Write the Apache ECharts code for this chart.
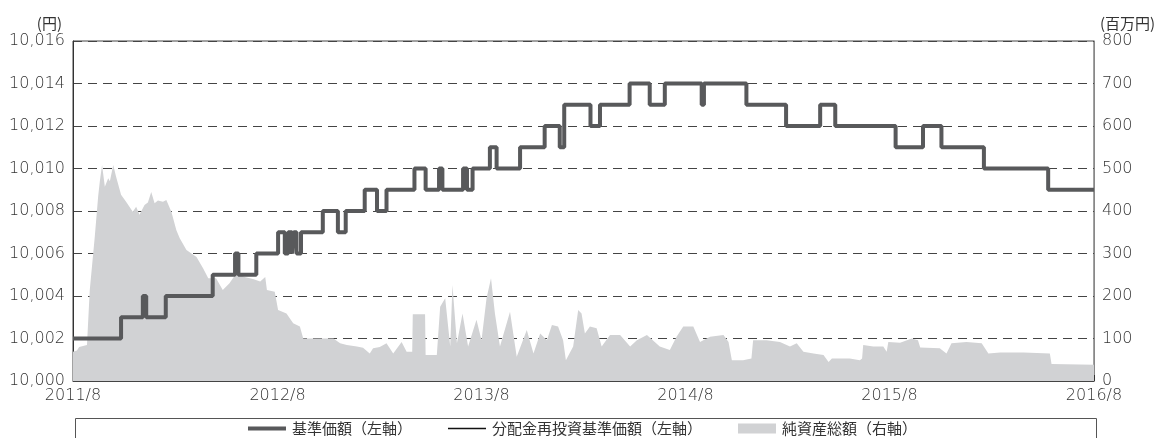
<!DOCTYPE html>
<html>
<head>
<meta charset="utf-8">
<script src="https://cdn.jsdelivr.net/npm/echarts@6/dist/echarts.min.js"></script>
<style>
  html, body { margin: 0; padding: 0; background: #fff; }
  #chart { width: 1165px; height: 438px; }
</style>
</head>
<body>
<div id="chart"></div>
<script>
// 軸の目盛り
var yearTicks = ['2011-08-01', '2012-08-01', '2013-08-01', '2014-08-01', '2015-08-01', '2016-08-01'];

// 基準価額（円）: 変化した日とその日からの値
var navDates = [
    '2011-08-01', '2011-10-26', '2011-12-04', '2011-12-10', '2012-01-14', '2012-04-07',
    '2012-05-17', '2012-05-23', '2012-06-24', '2012-08-02', '2012-08-14', '2012-08-20',
    '2012-08-27', '2012-08-30', '2012-09-04', '2012-09-12', '2012-10-21', '2012-11-17',
    '2012-12-01', '2013-01-04', '2013-01-26', '2013-02-12', '2013-04-03', '2013-04-23',
    '2013-05-17', '2013-05-23', '2013-06-29', '2013-07-06', '2013-07-16', '2013-08-16',
    '2013-08-28', '2013-10-09', '2013-11-22', '2013-12-19', '2013-12-27', '2014-02-12',
    '2014-03-01', '2014-04-23', '2014-05-29', '2014-06-25', '2014-08-30', '2014-09-03',
    '2014-11-18', '2015-01-28', '2015-03-30', '2015-04-26', '2015-08-12', '2015-09-30',
    '2015-11-02', '2016-01-17', '2016-05-11', '2016-08-01'
];
var navValues = [
    10002, 10003, 10004, 10003, 10004, 10005,
    10006, 10005, 10006, 10007, 10006, 10007,
    10006, 10007, 10006, 10007, 10008, 10007,
    10008, 10009, 10008, 10009, 10010, 10009,
    10010, 10009, 10010, 10009, 10010, 10011,
    10010, 10011, 10012, 10011, 10013, 10012,
    10013, 10014, 10013, 10014, 10013, 10014,
    10013, 10012, 10013, 10012, 10011, 10012,
    10011, 10010, 10009, 10009
];
// 分配金再投資基準価額（分配なしのため基準価額と同じ）
var reinvValues = navValues.slice();

// 純資産総額（百万円）
var assetDates = [
    '2011-08-01', '2011-08-08', '2011-08-12', '2011-08-26', '2011-08-31', '2011-09-09',
    '2011-09-15', '2011-09-18', '2011-09-22', '2011-09-27', '2011-10-03', '2011-10-06',
    '2011-10-12', '2011-10-17', '2011-10-26', '2011-11-04', '2011-11-16', '2011-11-22',
    '2011-11-28', '2011-12-07', '2011-12-13', '2011-12-19', '2011-12-25', '2011-12-31',
    '2012-01-09', '2012-01-15', '2012-01-24', '2012-02-02', '2012-02-08', '2012-02-20',
    '2012-03-09', '2012-03-21', '2012-03-30', '2012-04-13', '2012-04-25', '2012-05-07',
    '2012-05-19', '2012-06-03', '2012-06-18', '2012-07-01', '2012-07-10', '2012-07-13',
    '2012-07-27', '2012-08-02', '2012-08-17', '2012-08-29', '2012-09-10', '2012-09-16',
    '2012-11-09', '2012-11-21', '2012-12-03', '2012-12-21', '2013-01-01', '2013-01-13',
    '2013-01-19', '2013-01-31', '2013-02-12', '2013-02-24', '2013-03-11', '2013-03-20',
    '2013-03-30', '2013-03-31', '2013-04-22', '2013-04-23', '2013-05-13', '2013-05-19',
    '2013-05-28', '2013-06-06', '2013-06-10', '2013-06-18', '2013-06-28', '2013-07-08',
    '2013-07-23', '2013-08-01', '2013-08-10', '2013-08-18', '2013-08-25', '2013-09-03',
    '2013-09-21', '2013-10-03', '2013-10-21', '2013-11-02', '2013-11-14', '2013-11-26',
    '2013-12-05', '2013-12-16', '2013-12-25', '2013-12-30', '2014-01-12', '2014-01-21',
    '2014-01-27', '2014-02-02', '2014-02-11', '2014-02-23', '2014-03-04', '2014-03-19',
    '2014-04-06', '2014-04-24', '2014-05-06', '2014-05-24', '2014-06-16', '2014-07-04',
    '2014-07-16', '2014-07-28', '2014-08-15', '2014-08-27', '2014-09-14', '2014-10-08',
    '2014-10-17', '2014-10-23', '2014-11-12', '2014-11-27', '2014-11-30', '2014-12-24',
    '2015-01-17', '2015-02-04', '2015-02-16', '2015-02-28', '2015-03-18', '2015-04-05',
    '2015-04-14', '2015-04-20', '2015-05-22', '2015-06-09', '2015-06-13', '2015-06-15',
    '2015-07-03', '2015-07-21', '2015-07-27', '2015-07-30', '2015-08-20', '2015-09-10',
    '2015-09-21', '2015-09-25', '2015-10-30', '2015-11-11', '2015-11-20', '2015-12-17',
    '2016-01-13', '2016-01-25', '2016-02-15', '2016-03-28', '2016-05-14', '2016-05-17',
    '2016-08-01'
];
var assetValues = [
    69, 72, 80, 85, 214, 340,
    434, 470, 508, 457, 477, 470,
    508, 481, 438, 422, 398, 410,
    391, 414, 420, 445, 418, 425,
    422, 426, 398, 355, 336, 308,
    292, 265, 242, 242, 214, 230,
    253, 245, 240, 234, 245, 214,
    210, 167, 159, 136, 128, 100,
    100, 89, 85, 81, 78, 65,
    77, 80, 89, 65, 92, 69,
    69, 157, 157, 61, 61, 175,
    195, 81, 226, 89, 159, 81,
    144, 96, 195, 242, 159, 81,
    163, 57, 120, 65, 112, 96,
    132, 128, 96, 49, 81, 167,
    159, 112, 128, 124, 81, 108,
    108, 81, 96, 108, 81, 73,
    104, 128, 128, 92, 104, 108,
    92, 49, 49, 53, 96, 96,
    92, 81, 89, 69, 65, 61,
    45, 53, 53, 49, 53, 85,
    81, 81, 69, 92, 90, 100,
    96, 79, 77, 65, 89, 92,
    89, 65, 67, 67, 65, 40,
    38
];

function toTime(s) {
    var p = s.split('-');
    return +new Date(+p[0], +p[1] - 1, +p[2]);
}

function pairs(dates, values) {
    return dates.map(function (d, i) { return [toTime(d), values[i]]; });
}

var tickValues = yearTicks.map(toTime);
var FONT = '"Noto Sans CJK JP", "Noto Sans", sans-serif';
var NUM_FONT = '"DejaVu Sans", "Noto Sans CJK JP", sans-serif';

var chart = echarts.init(document.getElementById('chart'));

var option = {
    animation: false,
    grid: {
        left: 73,
        right: 71,
        top: 41,
        bottom: 57,
        show: true,
        borderColor: '#444',
        borderWidth: 1
    },
    legend: {
        top: 416,
        left: 'center',
        itemWidth: 38,
        itemHeight: 10,
        itemGap: 36,
        symbolKeepAspect: true,
        textStyle: { color: '#333', fontSize: 15, fontFamily: FONT, padding: [0, 0, 0, 1] },
        data: [
            { name: '基準価額（左軸）', icon: 'path://M0,0h38v4h-38z' },
            { name: '分配金再投資基準価額（左軸）', icon: 'path://M0,0h38v1.6h-38z' },
            { name: '純資産総額（右軸）', icon: 'rect' }
        ]
    },
    xAxis: {
        type: 'value',
        min: tickValues[0],
        max: tickValues[tickValues.length - 1],
        axisLine: { lineStyle: { color: '#444', width: 1 } },
        axisTick: {
            inside: true,
            length: 6,
            customValues: tickValues,
            lineStyle: { color: '#333' }
        },
        axisLabel: {
            customValues: tickValues,
            color: '#333',
            fontSize: 16,
            fontWeight: 200,
            fontFamily: NUM_FONT,
            margin: 7,
            formatter: function (v) {
                var d = new Date(v);
                return d.getFullYear() + '/' + (d.getMonth() + 1);
            }
        },
        splitLine: { show: false }
    },
    yAxis: [
        {
            type: 'value',
            min: 10000,
            max: 10016,
            interval: 2,
            name: '(円)',
            nameLocation: 'end',
            nameGap: 10,
            nameTextStyle: { color: '#333', fontSize: 15, fontFamily: FONT, align: 'right', padding: [0, 11, 0, 0] },
            axisLine: { show: true, lineStyle: { color: '#333' } },
            axisTick: { show: false },
            axisLabel: { color: '#333', fontSize: 16, fontWeight: 200, fontFamily: NUM_FONT, margin: 8 },
            splitLine: { show: true, lineStyle: { color: '#444', type: [9, 6], width: 1 } }
        },
        {
            type: 'value',
            min: 0,
            max: 800,
            interval: 100,
            name: '(百万円)',
            nameLocation: 'end',
            nameGap: 10,
            nameTextStyle: { color: '#333', fontSize: 15, fontFamily: FONT, align: 'left', padding: [0, 0, 0, 6] },
            axisLine: { show: true, lineStyle: { color: '#888' } },
            axisTick: { show: false },
            axisLabel: { color: '#333', fontSize: 16, fontWeight: 200, fontFamily: NUM_FONT, margin: 8 },
            splitLine: { show: false }
        }
    ],
    series: [
        {
            name: '純資産総額（右軸）',
            type: 'line',
            yAxisIndex: 1,
            data: pairs(assetDates, assetValues),
            symbol: 'none',
            lineStyle: { width: 0, color: '#d1d2d4' },
            itemStyle: { color: '#d1d2d4' },
            areaStyle: { color: '#d1d2d4', opacity: 1 },
            z: 1
        },
        {
            name: '分配金再投資基準価額（左軸）',
            type: 'line',
            step: 'end',
            yAxisIndex: 0,
            data: pairs(navDates, reinvValues),
            symbol: 'none',
            lineStyle: { width: 1.5, color: '#111' },
            itemStyle: { color: '#111' },
            z: 2
        },
        {
            name: '基準価額（左軸）',
            type: 'line',
            step: 'end',
            yAxisIndex: 0,
            data: pairs(navDates, navValues),
            symbol: 'none',
            lineStyle: { width: 4, color: '#58595b' },
            itemStyle: { color: '#58595b' },
            z: 3
        }
    ],
    graphic: [
        {
            type: 'rect',
            left: 73,
            top: 416,
            shape: { width: 1021, height: 40 },
            style: { fill: 'none', stroke: '#555', lineWidth: 1 },
            silent: true
        }
    ]
};

chart.setOption(option);
</script>
</body>
</html>
